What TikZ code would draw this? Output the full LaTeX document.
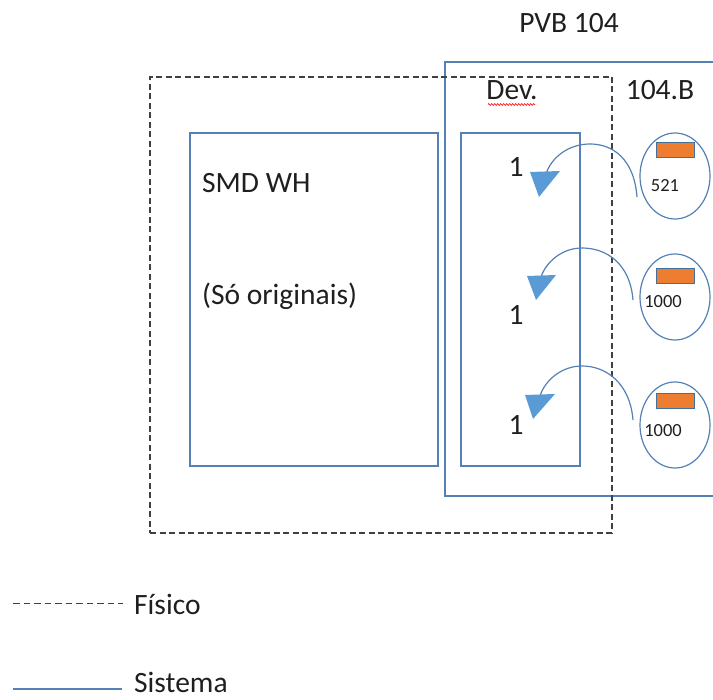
\documentclass[tikz,border=0pt]{standalone}
\usepackage{fontspec}
\setmainfont{Carlito}
\usetikzlibrary{shapes.geometric,decorations.pathmorphing}
\definecolor{sysblue}{HTML}{5580B5}
\definecolor{arrowblue}{HTML}{5B9BD5}
\definecolor{tagorange}{HTML}{ED7D31}
\definecolor{tagedge}{HTML}{41719C}
\definecolor{physgray}{HTML}{404040}
\definecolor{txt}{HTML}{1F1F1F}
\begin{document}
\begin{tikzpicture}[x=1pt,y=-1pt,
  sysline/.style={draw=sysblue,line width=1.3pt},
  physline/.style={draw=physgray,line width=1.1pt,dash pattern=on 6pt off 3.5pt},
  box/.style={sysline,rectangle,inner sep=0pt,outer sep=0pt},
  physbox/.style={physline,rectangle,inner sep=0pt,outer sep=0pt},
  lbl/.style={font=\fontsize{29.5}{31}\selectfont,text=txt,inner sep=0pt},
  small/.style={font=\fontsize{18.5}{20}\selectfont,text=txt,inner sep=0pt,anchor=base},
  item/.style={draw=sysblue,line width=1.2pt,ellipse,minimum width=70pt,minimum height=86pt,inner sep=0pt},
  tag/.style={draw=tagedge,fill=tagorange,line width=1pt,minimum width=38pt,minimum height=15pt,inner sep=0pt},
  flow/.style={draw=sysblue,line width=1.2pt},
  head/.style={fill=arrowblue,draw=none}]
\useasboundingbox (0,0) rectangle (713,700);

% location PVB 104 (system), running past the right edge
\begin{scope}
\clip (0,0) rectangle (713,700);
\node[box,minimum width=295pt,minimum height=434pt] (pvb) at (592.5,279) {};
\end{scope}
% physical area
\node[physbox,minimum width=462pt,minimum height=456pt] (phys) at (381,305) {};
% warehouse and return boxes
\node[box,minimum width=248pt,minimum height=333pt] (smd) at (314,299.5) {};
\node[box,minimum width=119pt,minimum height=333pt] (dev) at (520.5,299.5) {};

% titles
\node[lbl,anchor=base] (tpvb) at (569,33) {PVB 104};
\node[lbl,anchor=base] (tdev) at (512,100) {Dev.};
\node[lbl,anchor=base] (tbin) at (660,100) {104.B};
\draw[red,line width=0.6pt,decorate,decoration={zigzag,amplitude=0.9pt,segment length=3pt}]
  (488,104.5) -- (535,104.5);
\node[lbl,anchor=base west] (tsmd) at (202,193) {SMD WH};
\node[lbl,anchor=base west] (torig) at (202,305) {(Só originais)};

% items in 104.B
\node[item] (e1) at (675,176) {};
\node[item] (e2) at (675,297) {};
\node[item] (e3) at (675,425) {};
\node[tag] (g1) at (675,150.5) {};
\node[tag] (g2) at (675,276) {};
\node[tag] (g3) at (675,401.5) {};
\node[small] (q1) at (665,192) {521};
\node[small] (q2) at (663,308) {1000};
\node[small] (q3) at (663,437) {1000};

% returned quantities
\node[lbl,anchor=base] (n1) at (516,177) {1};
\node[lbl,anchor=base] (n2) at (516,325) {1};
\node[lbl,anchor=base] (n3) at (516,435) {1};

% return flows
\coordinate (s1) at (637,197);
\coordinate (s2) at (633,300);
\coordinate (s3) at (633,420);
\coordinate (f1) at (546,174);
\coordinate (f2) at (541,277);
\coordinate (f3) at (540,396);
\draw[flow] (s1) .. controls (634,158) and (612,144) .. (590,144)
                 .. controls (568,144) and (551,158) .. (f1);
\draw[flow] (s2) .. controls (630,263) and (606,248) .. (582,248)
                 .. controls (562,248) and (546,262) .. (f2);
\draw[flow] (s3) .. controls (630,383) and (606,366) .. (582,366)
                 .. controls (562,366) and (545,380) .. (f3);
\fill[head] (530,172) -- (560,171) -- (539,197) -- cycle;
\fill[head] (527,276) -- (556,275) -- (536,300) -- cycle;
\fill[head] (525,395) -- (555,394) -- (533,419) -- cycle;

% legend
\coordinate (la) at (13,604);
\coordinate (lb) at (123,604);
\coordinate (lc) at (13,689);
\coordinate (ld) at (122,689);
\draw[physline,line width=1pt,dash pattern=on 6.5pt off 4pt] (la) -- (lb);
\draw[sysline,line width=1.2pt] (lc) -- (ld);
\node[lbl,anchor=base west] (tfis) at (134,615) {Físico};
\node[lbl,anchor=base west] (tsis) at (134,692) {Sistema};
\end{tikzpicture}
\end{document}
